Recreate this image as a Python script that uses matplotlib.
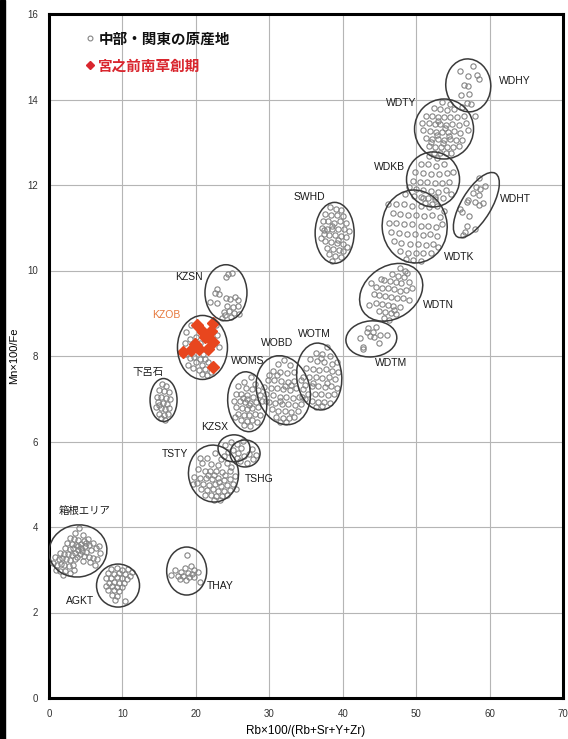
import matplotlib
matplotlib.use('Agg')
from matplotlib import pyplot as plt
from matplotlib.patches import Ellipse, Rectangle
from matplotlib.lines import Line2D
import matplotlib.transforms as mtransforms
import numpy as np

plt.rcParams['font.family'] = ['Liberation Sans', 'Noto Sans CJK JP', 'DejaVu Sans']

# source groups: (x, y) points
hakone = [(4.1, 3.98), (3.6, 3.85), (4.6, 3.82), (2.9, 3.75), (3.4, 3.72), (4.0, 3.70), (4.8, 3.68), (5.3, 3.72),
          (2.5, 3.62), (3.1, 3.60), (3.7, 3.58), (4.3, 3.60), (4.9, 3.55), (5.5, 3.58), (6.0, 3.62), (2.2, 3.50),
          (2.8, 3.48), (3.3, 3.50), (3.9, 3.46), (4.5, 3.45), (5.1, 3.42), (5.7, 3.46), (6.4, 3.50), (6.9, 3.40),
          (1.5, 3.40), (2.0, 3.38), (2.6, 3.36), (3.2, 3.35), (3.6, 3.40), (4.2, 3.36), (4.8, 3.32), (5.4, 3.30),
          (6.0, 3.28), (6.6, 3.26), (0.8, 3.30), (1.3, 3.26), (1.8, 3.28), (2.3, 3.24), (2.9, 3.22), (3.5, 3.25),
          (4.6, 3.20), (5.6, 3.18), (6.2, 3.12), (0.6, 3.16), (1.1, 3.12), (1.6, 3.14), (2.1, 3.10), (2.7, 3.08),
          (3.3, 3.10), (1.0, 3.00), (1.5, 2.98), (2.2, 2.96), (2.8, 2.92), (1.9, 2.88), (3.4, 3.00), (4.0, 3.55),
          (4.4, 3.50), (3.8, 3.30), (5.0, 3.62), (6.8, 3.55)]
agkt = [(8.5, 3.02), (9.3, 3.05), (10.0, 3.00), (10.7, 3.02), (8.0, 2.92), (8.8, 2.90), (9.6, 2.92), (10.3, 2.90),
        (11.0, 2.86), (7.8, 2.80), (8.5, 2.80), (9.2, 2.82), (9.9, 2.80), (10.6, 2.78), (8.2, 2.70), (8.9, 2.72),
        (9.5, 2.70), (10.2, 2.70), (7.7, 2.62), (8.6, 2.62), (9.3, 2.60), (10.0, 2.60), (8.1, 2.52), (8.8, 2.52),
        (9.6, 2.50), (8.6, 2.40), (9.2, 2.38), (9.0, 2.30), (10.4, 2.26), (11.3, 2.95)]
thay = [(18.75, 3.35), (19.3, 3.08), (18.5, 3.05), (19.8, 3.00), (17.2, 3.00), (18.0, 2.95), (18.9, 2.92),
        (19.5, 2.90), (20.3, 2.95), (16.6, 2.88), (17.5, 2.85), (18.3, 2.85), (19.0, 2.82), (19.8, 2.82),
        (18.6, 2.76), (17.8, 2.78), (20.5, 2.72)]
tsty = [(22.6, 5.72), (21.5, 5.62), (23.4, 5.60), (20.8, 5.50), (22.0, 5.48), (23.0, 5.45), (24.2, 5.50),
        (20.3, 5.35), (21.2, 5.32), (21.9, 5.30), (22.7, 5.30), (23.5, 5.28), (24.6, 5.32), (19.8, 5.18),
        (20.6, 5.15), (21.4, 5.14), (22.2, 5.12), (23.0, 5.15), (23.8, 5.10), (24.7, 5.12), (25.3, 5.20),
        (20.2, 5.02), (21.0, 5.00), (21.8, 4.98), (22.6, 5.00), (23.4, 4.96), (24.2, 4.98), (25.0, 5.00),
        (20.7, 4.88), (21.5, 4.86), (22.3, 4.88), (23.0, 4.85), (23.8, 4.84), (24.6, 4.86), (21.2, 4.75),
        (22.0, 4.74), (22.8, 4.72), (23.6, 4.72), (24.3, 4.75), (22.5, 4.62), (23.3, 4.62), (21.7, 5.22),
        (22.5, 5.22), (23.2, 5.05), (24.0, 5.22), (19.6, 5.00), (25.5, 4.90), (24.8, 5.40), (20.5, 5.62)]
kzsx = [(24.0, 5.92), (24.8, 5.98), (25.6, 5.95), (26.2, 5.85), (25.0, 5.80), (24.4, 5.75), (25.8, 5.72),
        (26.4, 6.02), (23.8, 5.65)]
tshg = [(26.5, 5.65), (27.2, 5.70), (27.8, 5.60), (26.0, 5.55), (27.0, 5.50), (27.6, 5.82), (28.2, 5.68),
        (25.6, 5.62)]
kzsn = [(24.4, 9.92), (24.9, 9.95), (24.1, 9.84), (22.9, 9.57), (23.1, 9.46), (22.6, 9.48), (21.9, 9.26),
        (22.9, 9.24), (24.1, 9.36), (24.6, 9.33), (25.3, 9.38), (25.8, 9.32), (24.3, 9.18), (25.0, 9.15),
        (25.7, 9.16), (24.5, 9.05), (25.2, 9.00), (25.9, 8.98), (24.0, 8.95), (23.6, 8.88), (23.9, 9.02),
        (24.8, 8.92)]
kzob = [(19.4, 8.72), (18.7, 8.55), (19.2, 8.40), (20.0, 8.45), (18.5, 8.30), (19.6, 8.28), (20.6, 8.30),
        (21.0, 8.05), (19.8, 7.98), (20.5, 7.92), (21.2, 7.92), (19.2, 7.95), (20.0, 7.85), (20.8, 7.80),
        (21.6, 7.85), (19.6, 7.72), (20.4, 7.68), (21.3, 7.70), (18.9, 7.80), (21.5, 7.55), (22.0, 7.62),
        (20.8, 7.58), (22.9, 8.50), (23.2, 8.20), (22.7, 8.72), (18.6, 8.05)]
gero = [(15.4, 7.35), (16.0, 7.30), (15.0, 7.20), (15.7, 7.18), (16.3, 7.15), (14.7, 7.05), (15.3, 7.05),
        (15.9, 7.02), (16.5, 7.00), (14.9, 6.92), (15.5, 6.90), (16.1, 6.88), (14.6, 6.80), (15.2, 6.78),
        (15.8, 6.75), (16.4, 6.78), (15.0, 6.65), (15.6, 6.62), (16.2, 6.65), (15.3, 6.55), (15.8, 6.50),
        (15.0, 6.85)]
woms = [(27.5, 7.50), (26.6, 7.40), (28.0, 7.35), (25.8, 7.30), (26.8, 7.25), (27.6, 7.22), (28.5, 7.20),
        (25.4, 7.10), (26.2, 7.12), (27.0, 7.08), (27.8, 7.05), (28.7, 7.08), (25.2, 6.95), (26.0, 6.95),
        (26.7, 6.92), (27.4, 6.90), (28.2, 6.92), (29.0, 6.95), (25.5, 6.80), (26.3, 6.78), (27.0, 6.75),
        (27.7, 6.78), (28.5, 6.80), (25.8, 6.65), (26.6, 6.62), (27.3, 6.62), (28.0, 6.65), (28.8, 6.62),
        (26.2, 6.50), (27.0, 6.48), (27.7, 6.50), (26.6, 6.38), (27.4, 6.36), (28.3, 6.45), (25.3, 6.58),
        (26.9, 7.00), (27.2, 6.85), (26.4, 7.02)]
wobd = [(32.0, 7.90), (31.2, 7.82), (32.8, 7.78), (30.5, 7.65), (31.5, 7.62), (32.4, 7.60), (33.4, 7.62),
        (29.8, 7.45), (30.7, 7.45), (31.6, 7.42), (32.5, 7.40), (33.4, 7.42), (34.3, 7.45), (29.3, 7.28),
        (30.2, 7.25), (31.0, 7.25), (31.9, 7.22), (32.8, 7.20), (33.7, 7.25), (34.6, 7.22), (29.6, 7.10),
        (30.5, 7.08), (31.4, 7.05), (32.3, 7.05), (33.2, 7.02), (34.1, 7.05), (34.8, 7.00), (29.9, 6.92),
        (30.8, 6.90), (31.7, 6.88), (32.6, 6.88), (33.5, 6.85), (34.3, 6.88), (30.4, 6.75), (31.2, 6.72),
        (32.1, 6.72), (33.0, 6.70), (33.9, 6.72), (30.9, 6.58), (31.8, 6.55), (32.7, 6.55), (31.4, 6.45),
        (32.3, 6.45), (33.4, 6.58), (30.0, 7.55), (29.5, 6.95), (31.0, 7.55), (32.2, 7.30), (33.0, 7.32),
        (31.5, 6.95)]
wotm = [(37.8, 8.22), (36.3, 8.08), (37.2, 8.05), (38.3, 8.00), (35.5, 7.92), (36.5, 7.88), (37.4, 7.85),
        (38.5, 7.82), (39.2, 7.85), (35.0, 7.72), (35.9, 7.70), (36.8, 7.68), (37.7, 7.70), (38.6, 7.66),
        (39.4, 7.62), (34.6, 7.52), (35.4, 7.50), (36.3, 7.50), (37.2, 7.48), (38.1, 7.50), (38.9, 7.46),
        (34.9, 7.32), (35.8, 7.30), (36.7, 7.30), (37.6, 7.28), (38.4, 7.30), (39.2, 7.25), (35.3, 7.12),
        (36.2, 7.10), (37.1, 7.10), (38.0, 7.08), (38.8, 7.10), (35.8, 6.95), (36.6, 6.92), (37.5, 6.92),
        (38.3, 6.90), (36.3, 6.80), (37.2, 6.82), (34.5, 7.05), (37.0, 7.95), (36.0, 7.38), (37.9, 7.38)]
swhd = [(38.3, 11.48), (39.1, 11.45), (39.8, 11.42), (37.6, 11.32), (38.4, 11.30), (39.2, 11.30), (40.0, 11.28),
        (37.3, 11.15), (38.0, 11.15), (38.8, 11.12), (39.6, 11.15), (40.4, 11.12), (37.2, 11.00), (37.9, 10.98),
        (38.6, 10.98), (39.4, 10.96), (40.2, 10.98), (40.8, 10.92), (37.4, 10.85), (38.1, 10.82), (38.9, 10.82),
        (39.7, 10.80), (40.5, 10.78), (37.6, 10.68), (38.4, 10.66), (39.2, 10.65), (40.0, 10.62), (40.6, 10.55),
        (37.9, 10.52), (38.7, 10.50), (39.5, 10.48), (38.2, 10.38), (39.0, 10.35), (39.8, 10.32), (38.6, 10.22),
        (37.5, 10.95), (38.5, 11.05), (39.3, 10.72), (40.1, 10.45), (37.0, 10.75)]
wdtm = [(42.3, 8.41), (43.5, 8.65), (44.1, 8.57), (44.6, 8.69), (43.7, 8.47), (45.1, 8.49), (46.0, 8.49),
        (44.3, 8.45), (42.8, 8.22), (42.7, 8.16), (43.3, 8.56), (44.9, 8.30)]
wdtn = [(47.8, 10.05), (48.5, 10.00), (46.7, 9.92), (47.5, 9.88), (48.3, 9.85), (45.6, 9.78), (46.4, 9.75),
        (47.2, 9.72), (48.0, 9.70), (49.0, 9.72), (44.6, 9.62), (45.4, 9.60), (46.2, 9.58), (47.0, 9.56),
        (47.8, 9.52), (48.6, 9.55), (49.5, 9.60), (44.2, 9.45), (45.0, 9.42), (45.8, 9.40), (46.6, 9.38),
        (47.4, 9.36), (48.2, 9.35), (49.0, 9.30), (44.5, 9.25), (45.3, 9.22), (46.1, 9.20), (46.9, 9.18),
        (47.8, 9.15), (45.0, 9.05), (45.8, 9.02), (46.6, 9.00), (47.3, 8.98), (45.6, 8.88), (46.3, 8.85),
        (43.6, 9.20), (43.9, 9.70), (48.8, 9.95), (47.0, 9.08), (45.2, 9.80)]
wdtk = [(48.5, 11.80), (49.7, 11.75), (51.0, 11.70), (52.5, 11.72), (47.3, 11.55), (48.4, 11.55), (49.5, 11.52),
        (50.6, 11.50), (51.7, 11.48), (52.8, 11.50), (46.8, 11.35), (47.8, 11.32), (48.9, 11.30), (50.0, 11.30),
        (51.1, 11.28), (52.2, 11.30), (53.2, 11.25), (46.3, 11.12), (47.3, 11.10), (48.4, 11.08), (49.5, 11.08),
        (50.6, 11.05), (51.6, 11.05), (52.7, 11.02), (53.5, 11.08), (46.6, 10.90), (47.6, 10.88), (48.7, 10.86),
        (49.8, 10.85), (50.9, 10.82), (51.9, 10.85), (52.9, 10.80), (47.0, 10.68), (48.0, 10.65), (49.1, 10.62),
        (50.2, 10.62), (51.3, 10.60), (52.3, 10.62), (47.8, 10.45), (48.9, 10.42), (50.0, 10.40), (51.0, 10.42),
        (52.0, 10.40), (48.6, 10.28), (49.6, 10.25), (50.6, 10.22), (53.0, 10.55), (46.2, 11.55), (53.8, 11.40),
        (49.0, 11.95)]
wdkb = [(51.8, 12.68), (52.9, 12.62), (50.6, 12.50), (51.6, 12.48), (52.7, 12.45), (53.8, 12.48), (49.9, 12.30),
        (50.9, 12.28), (52.0, 12.26), (53.1, 12.25), (54.2, 12.28), (55.0, 12.30), (49.6, 12.10), (50.5, 12.08),
        (51.5, 12.06), (52.5, 12.05), (53.5, 12.04), (54.5, 12.08), (50.0, 11.90), (51.0, 11.88), (52.0, 11.86),
        (53.0, 11.84), (54.0, 11.88), (50.6, 11.72), (51.6, 11.70), (52.6, 11.68), (53.6, 11.70), (51.2, 11.58),
        (52.2, 11.55), (54.8, 11.80)]
wdty = [(53.5, 13.95), (54.6, 13.90), (52.4, 13.80), (53.3, 13.78), (54.2, 13.76), (55.2, 13.78), (56.2, 13.82),
        (51.3, 13.62), (52.2, 13.62), (53.0, 13.60), (53.8, 13.58), (54.6, 13.60), (55.5, 13.58), (56.5, 13.62),
        (50.8, 13.45), (51.7, 13.44), (52.5, 13.42), (53.3, 13.42), (54.1, 13.40), (54.9, 13.42), (55.8, 13.40),
        (56.8, 13.45), (51.0, 13.28), (51.9, 13.26), (52.7, 13.25), (53.5, 13.25), (54.3, 13.24), (55.1, 13.26),
        (56.0, 13.22), (57.0, 13.28), (51.3, 13.10), (52.2, 13.08), (53.0, 13.08), (53.8, 13.06), (54.6, 13.08),
        (55.4, 13.06), (56.3, 13.05), (51.8, 12.92), (52.6, 12.90), (53.4, 12.90), (54.2, 12.88), (55.0, 12.90),
        (55.9, 12.92), (52.4, 12.76), (53.2, 12.74), (54.0, 12.75), (54.8, 12.76), (53.0, 13.50), (53.9, 13.33),
        (54.5, 13.15), (52.9, 13.16), (53.6, 12.98), (57.5, 13.90), (52.0, 13.00)]
wdhy = [(56.0, 14.67), (57.7, 14.78), (57.1, 14.55), (58.3, 14.57), (58.6, 14.47), (56.5, 14.34), (57.1, 14.32),
        (56.1, 14.11), (57.2, 14.14), (56.9, 13.91), (58.0, 13.61)]
wdht = [(58.5, 12.16), (59.4, 11.98), (58.2, 11.96), (58.7, 11.90), (57.8, 11.82), (58.5, 11.77), (57.1, 11.66),
        (56.9, 11.61), (58.0, 11.61), (58.6, 11.53), (59.1, 11.57), (56.2, 11.38), (56.0, 11.43), (57.2, 11.28),
        (56.9, 11.03), (56.7, 10.91), (58.0, 10.97), (56.4, 10.83)]

# Miyanomae site, incipient Jomon
miyanomae = [(20.2, 8.73), (22.4, 8.78), (21.0, 8.57), (22.0, 8.58), (21.3, 8.44), (22.4, 8.33),
             (18.3, 8.10), (19.3, 8.14), (20.4, 8.16), (21.6, 8.16), (22.4, 7.75), (19.9, 8.28)]

# group names, label positions and ellipse (centre x, centre y, width px, height px, angle)
group_names = ['箱根エリア', 'AGKT', 'THAY', 'TSTY', 'KZSX', 'TSHG', 'KZSN', 'KZOB', '下呂石', 'WOMS',
               'WOBD', 'WOTM', 'SWHD', 'WDTM', 'WDTN', 'WDTK', 'WDKB', 'WDTY', 'WDHY', 'WDHT']
label_x = [4.8, 4.2, 23.3, 17.1, 22.5, 28.6, 19.1, 15.9, 13.5, 27.1,
           31.05, 36.2, 35.5, 46.6, 53.0, 55.8, 46.3, 47.9, 63.5, 63.5]
label_y = [4.37, 2.27, 2.62, 5.71, 6.34, 5.12, 9.85, 8.96, 7.63, 7.88,
           8.30, 8.51, 11.72, 7.84, 9.19, 10.32, 12.42, 13.92, 14.43, 11.67]
ell_cx = [3.95, 9.4, 18.75, 22.4, 25.2, 26.7, 24.1, 20.9, 15.6, 27.0,
          31.9, 36.8, 38.9, 43.9, 46.6, 49.8, 52.3, 53.8, 57.1, 58.2]
ell_cy = [3.44, 2.63, 2.97, 5.25, 5.84, 5.72, 9.48, 8.2, 6.97, 6.93,
          7.2, 7.52, 10.88, 8.40, 9.49, 11.03, 12.13, 13.31, 14.33, 11.53]
ell_w = [58, 43, 40, 50, 32, 30, 42, 50, 27, 39, 53, 45, 39, 51, 68, 65, 53, 59, 45, 74]
ell_h = [52, 43, 48, 57, 27, 27, 56, 64, 43, 60, 70, 67, 61, 36, 52, 73, 55, 60, 53, 30]
ell_a = [10, 0, 0, 5, 0, 0, 0, 0, 0, 5, 15, 5, 0, 5, 35, 5, 0, 0, 5, 59]

groups = [hakone, agkt, thay, tsty, kzsx, tshg, kzsn, kzob, gero, woms,
          wobd, wotm, swhd, wdtm, wdtn, wdtk, wdkb, wdty, wdhy, wdht]

fig = plt.figure(figsize=(5.68, 7.39), dpi=100)
ax = fig.add_axes([49 / 568, 41 / 739, 514 / 568, 684 / 739])

for pts in groups:
    arr = np.array(pts)
    ax.plot(arr[:, 0], arr[:, 1], 'o', ms=3.8, mfc='none', mec='#858585', mew=0.8, zorder=3)

m = np.array(miyanomae)
ax.plot(m[:, 0], m[:, 1], 'D', ms=6.5, mfc='#e8461e', mec='#e8461e', zorder=4)

for i, name in enumerate(group_names):
    e = Ellipse((0, 0), ell_w[i], ell_h[i], angle=ell_a[i], fill=False, ec='#3a3a3a', lw=1.1,
                transform=mtransforms.ScaledTranslation(ell_cx[i], ell_cy[i], ax.transData), zorder=5)
    ax.add_patch(e)
    col = '#e6783c' if name == 'KZOB' else '#1a1a1a'
    ax.text(label_x[i], label_y[i], name, ha='center', va='center', fontsize=7.5, color=col, zorder=6)

ax.set_xlim(0, 70)
ax.set_ylim(0, 16)
ax.set_xticks(np.arange(0, 71, 10))
ax.set_yticks(np.arange(0, 17, 2))
ax.grid(True, color='#b5b5b5', lw=0.8)
ax.set_axisbelow(True)
ax.tick_params(length=0, labelsize=7, colors='#333333', pad=8)
for s in ax.spines.values():
    s.set_linewidth(2.2)
    s.set_color('black')
ax.set_xlabel('Rb×100/(Rb+Sr+Y+Zr)', fontsize=8.5, labelpad=4)
ax.set_ylabel('Mn×100/Fe', fontsize=8, labelpad=6)

handles = [Line2D([], [], ls='none', marker='o', ms=3.5, mfc='none', mec='#858585', mew=0.8),
           Line2D([], [], ls='none', marker='D', ms=4, mfc='#d9262e', mec='#d9262e')]
leg = ax.legend(handles, ['中部・関東の原産地', '宮之前南草創期'], loc='upper left',
                bbox_to_anchor=(0.045, 0.995), frameon=False, handlelength=0.6, handletextpad=0.3,
                labelspacing=0.75, labelcolor=['#111111', '#d9262e'],
                prop={'family': ['Noto Sans CJK JP'], 'size': 10.5, 'weight': 'bold'})

fig.patches.append(Rectangle((0, 0), 5 / 568, 1, transform=fig.transFigure, color='black'))

fig.savefig('out.png', dpi=100)
